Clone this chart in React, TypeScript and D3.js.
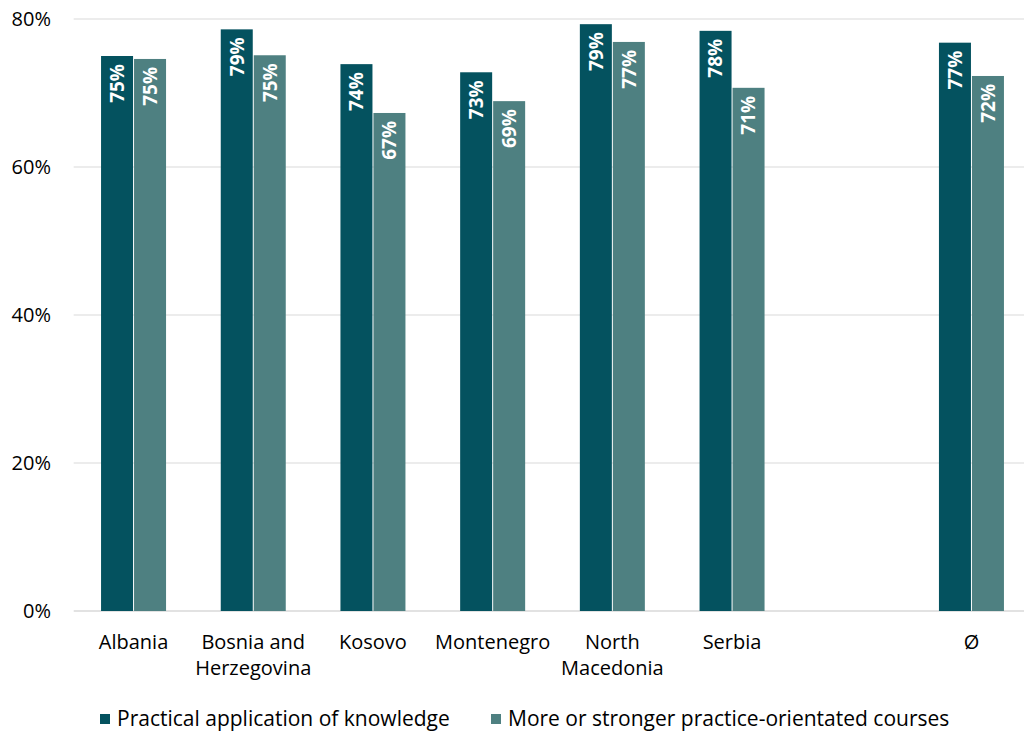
import React from 'react';
import * as d3 from 'd3';

const categories = ['Albania', 'Bosnia and Herzegovina', 'Kosovo', 'Montenegro', 'North Macedonia', 'Serbia', '', 'Ø'];
const categoryLines: string[][] = [['Albania'], ['Bosnia and', 'Herzegovina'], ['Kosovo'], ['Montenegro'], ['North', 'Macedonia'], ['Serbia'], [], ['Ø']];
const seriesNames = ['Practical application of knowledge', 'More or stronger practice-orientated courses'];
const practical = [75.0, 78.6, 73.9, 72.8, 79.3, 78.4, null, 76.8];
const courses = [74.6, 75.1, 67.3, 68.9, 76.9, 70.7, null, 72.3];
const yTicks = [0, 20, 40, 60, 80];
const colors = ['#04525f', '#4e8081'];

const font = '"Open Sans", sans-serif';

const App: React.FC = () => {
  const width = 1024;
  const height = 733;
  const margin = { left: 73.7, right: -7.3, top: 19, bottom: 122 };

  const x = d3.scaleBand<string>()
    .domain(categories)
    .range([margin.left, width - margin.right])
    .padding(0);

  const y = d3.scaleLinear()
    .domain([0, 80])
    .range([height - margin.bottom, margin.top]);

  const series = [practical, courses];

  return (
    <svg width={width} height={height} style={{ position: 'absolute', left: 0, top: 0 }} fontFamily={font}>
      {yTicks.map(t => (
        <g key={t}>
          <line x1={margin.left} x2={width} y1={y(t)} y2={y(t)} stroke="#d9d9d9" strokeWidth={t === 0 ? 1.5 : 1} />
          <text x={51} y={y(t)} dy="0.35em" textAnchor="end" fontSize={20} fill="#000">{t}%</text>
        </g>
      ))}
      {categories.map((c, i) => {
        const cx = x(c)! + x.bandwidth() / 2;
        const inner = d3.scaleBand<number>().domain([0, 1]).range([cx - 32.5, cx + 32.5]).paddingInner(0.03);
        return (
          <g key={i}>
            {series.map((s, si) => {
              const v = s[i];
              if (v == null) return null;
              const bx = inner(si)!;
              const bw = inner.bandwidth();
              const top = y(v);
              return (
                <g key={si}>
                  <rect x={bx} y={top} width={bw} height={y(0) - top} fill={colors[si]} />
                  <text
                    transform={`translate(${bx + bw / 2},${top + 8}) rotate(-90)`}
                    dy="0.36em"
                    textAnchor="end"
                    fontSize={19}
                    fontWeight="bold"
                    fill="#fff"
                  >{Math.round(v)}%</text>
                </g>
              );
            })}
            {categoryLines[i].map((line, li) => (
              <text key={li} x={cx} y={649 + li * 26} textAnchor="middle" fontSize={20} fill="#000">{line}</text>
            ))}
          </g>
        );
      })}
      <g>
        <rect x={100} y={714} width={10} height={10} fill={colors[0]} />
        <text x={117} y={726} fontSize={21} fill="#000">{seriesNames[0]}</text>
        <rect x={491} y={714} width={10} height={10} fill={colors[1]} />
        <text x={508} y={726} fontSize={21} fill="#000">{seriesNames[1]}</text>
      </g>
    </svg>
  );
};

export default App;
